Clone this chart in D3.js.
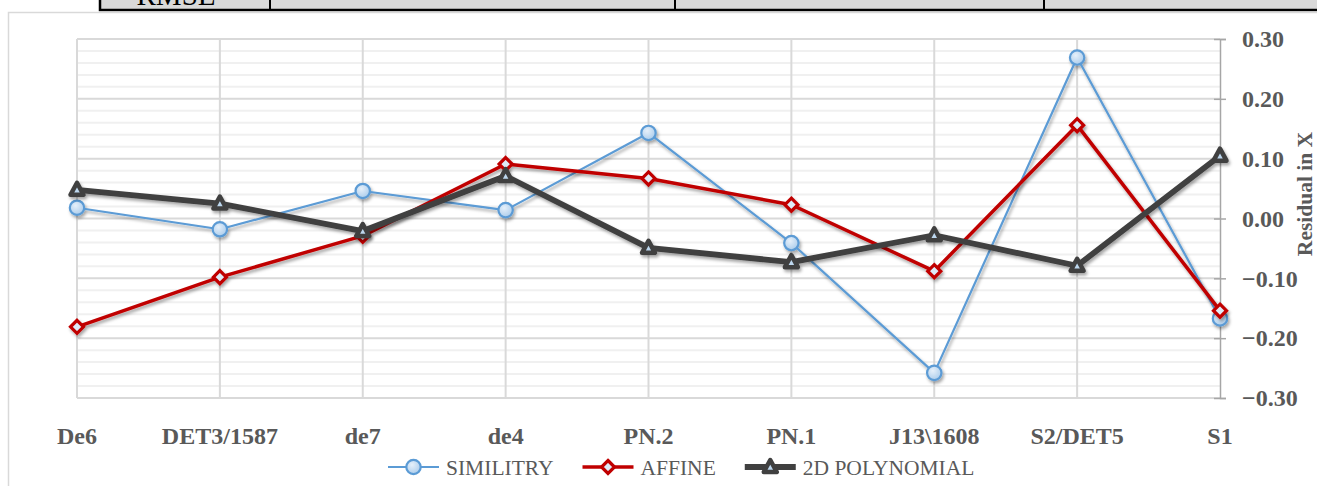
<!DOCTYPE html>
<html>
<head>
<meta charset="utf-8">
<script src="https://cdn.jsdelivr.net/npm/d3@7"></script>
<style>
  body { margin: 0; background: #fff; }
  svg { display: block; }
  text { font-family: "Liberation Serif", "Times New Roman", serif; fill: #595959; }
</style>
</head>
<body>
<svg id="chart" width="1317" height="486"></svg>
<script>
// residuals in X per control point
const categories = ["De6", "DET3/1587", "de7", "de4", "PN.2", "PN.1", "J13\\1608", "S2/DET5", "S1"];
const similitry = [0.018, -0.018, 0.046, 0.014, 0.143, -0.041, -0.258, 0.269, -0.167];
const affine = [-0.181, -0.098, -0.029, 0.091, 0.067, 0.023, -0.088, 0.156, -0.154];
const poly2d = [0.048, 0.025, -0.021, 0.071, -0.049, -0.073, -0.028, -0.079, 0.105];
const yTicks = [-0.3, -0.2, -0.1, 0, 0.1, 0.2, 0.3];
const seriesNames = ["SIMILITRY", "AFFINE", "2D POLYNOMIAL"];

const svg = d3.select("#chart");

// shadow under the lines, like the office chart effect
const defs = svg.append("defs");
const f = defs.append("filter").attr("id", "shadow")
  .attr("x", "-10%").attr("y", "-10%").attr("width", "120%").attr("height", "130%");
f.append("feDropShadow").attr("dx", 1.5).attr("dy", 2.5).attr("stdDeviation", 1.8)
  .attr("flood-color", "#000").attr("flood-opacity", 0.35);
const grad = defs.append("radialGradient").attr("id", "circFill")
  .attr("cx", "40%").attr("cy", "35%").attr("r", "70%");
grad.append("stop").attr("offset", "0%").attr("stop-color", "#e6f0fa");
grad.append("stop").attr("offset", "100%").attr("stop-color", "#a9cbeb");

// table remnant at the top of the page
const table = svg.append("g");
table.append("rect").attr("x", 100).attr("y", -6).attr("width", 1230).attr("height", 16)
  .attr("fill", "#d9d9d9").attr("stroke", "#000").attr("stroke-width", 2.5);
[270, 675, 1044].forEach(x => {
  table.append("line").attr("x1", x).attr("x2", x).attr("y1", -6).attr("y2", 10)
    .attr("stroke", "#000").attr("stroke-width", 2);
});
table.append("text").attr("x", 176).attr("y", 5).attr("text-anchor", "middle")
  .style("font-size", "29px").style("fill", "#000").text("RMSE");

// chart frame
svg.append("path").attr("d", "M8.5,486 V12.5 H1317")
  .attr("fill", "none").attr("stroke", "#d9d9d9").attr("stroke-width", 1.5);

const x = d3.scalePoint().domain(categories).range([77, 1220]);
const y = d3.scaleLinear().domain([-0.3, 0.3]).range([398, 39]);

// minor gridlines every 0.02
const minor = d3.range(-0.3, 0.3001, 0.02).filter(v => Math.abs(Math.round(v * 50) % 5) !== 0);
svg.append("g").selectAll("line").data(minor).join("line")
  .attr("x1", 77).attr("x2", 1220)
  .attr("y1", d => y(d)).attr("y2", d => y(d))
  .attr("stroke", "#f0f0f0").attr("stroke-width", 2);

svg.append("g").selectAll("line").data(yTicks).join("line")
  .attr("x1", 77).attr("x2", 1220)
  .attr("y1", d => y(d)).attr("y2", d => y(d))
  .attr("stroke", "#d9d9d9").attr("stroke-width", 2);

svg.append("g").selectAll("line").data(categories.slice(0, -1)).join("line")
  .attr("x1", d => x(d)).attr("x2", d => x(d))
  .attr("y1", 39).attr("y2", 398)
  .attr("stroke", "#d9d9d9").attr("stroke-width", 2);

// right value axis
const axisR = svg.append("g").attr("transform", "translate(1220,0)")
  .call(d3.axisRight(y).tickValues(yTicks).tickSize(6).tickPadding(16)
    .tickFormat(d3.format(".2f")));
axisR.select(".domain").attr("stroke", "#a6a6a6").attr("stroke-width", 1.5);
axisR.selectAll(".tick line").attr("x1", -6).attr("stroke", "#a6a6a6").attr("stroke-width", 1.5);
axisR.selectAll(".tick text")
  .attr("fill", "#595959")
  .style("font-family", '"Liberation Serif", serif')
  .style("font-size", "24px").style("font-weight", "bold");

svg.append("text")
  .attr("transform", "translate(1312,194) rotate(-90)")
  .attr("text-anchor", "middle")
  .style("font-size", "21.5px").style("font-weight", "bold")
  .text("Residual in X");

// category labels
svg.append("g").selectAll("text").data(categories).join("text")
  .attr("x", d => x(d)).attr("y", 444)
  .attr("text-anchor", "middle")
  .style("font-size", "24px").style("font-weight", "bold")
  .text(d => d);

// series
const line = d3.line().x((d, i) => x(categories[i])).y(d => y(d));

const circleMark = (g, cx, cy) => g.append("circle").attr("cx", cx).attr("cy", cy).attr("r", 7.2)
  .attr("fill", "url(#circFill)").attr("stroke", "#5b9bd5").attr("stroke-width", 2.2);
const diamondMark = (g, cx, cy) => g.append("path")
  .attr("d", `M${cx},${cy - 6.5} L${cx + 6.5},${cy} L${cx},${cy + 6.5} L${cx - 6.5},${cy} Z`)
  .attr("fill", "#deebf7").attr("stroke", "#c00000").attr("stroke-width", 3.2);
const triMark = (g, cx, cy) => g.append("path")
  .attr("d", `M${cx},${cy - 7} L${cx + 6.5},${cy + 5} L${cx - 6.5},${cy + 5} Z`)
  .attr("fill", "#bdd7ee").attr("stroke", "#404040").attr("stroke-width", 4.5)
  .attr("stroke-linejoin", "round");

const series = [
  { name: seriesNames[0], values: similitry, color: "#5b9bd5", width: 2.2, mark: circleMark },
  { name: seriesNames[1], values: affine, color: "#c00000", width: 3.5, mark: diamondMark },
  { name: seriesNames[2], values: poly2d, color: "#404040", width: 5.8, mark: triMark }
];

series.forEach(s => {
  const g = svg.append("g").attr("filter", "url(#shadow)");
  g.append("path").attr("d", line(s.values))
    .attr("fill", "none").attr("stroke", s.color).attr("stroke-width", s.width)
    .attr("stroke-linejoin", "round");
  s.values.forEach((v, i) => s.mark(g, x(categories[i]), y(v)));
});

// legend
const legend = svg.append("g");
let lx = 388;
const ly = 467;
series.forEach(s => {
  const g = legend.append("g");
  g.append("line").attr("x1", lx).attr("x2", lx + 51).attr("y1", ly).attr("y2", ly)
    .attr("stroke", s.color).attr("stroke-width", s.width);
  s.mark(g, lx + 25.5, ly);
  const t = g.append("text").attr("x", lx + 58).attr("y", ly + 7.5)
    .style("font-size", "21.5px").text(s.name);
  lx += 58 + t.node().getComputedTextLength() + 29;
});
</script>
</body>
</html>
